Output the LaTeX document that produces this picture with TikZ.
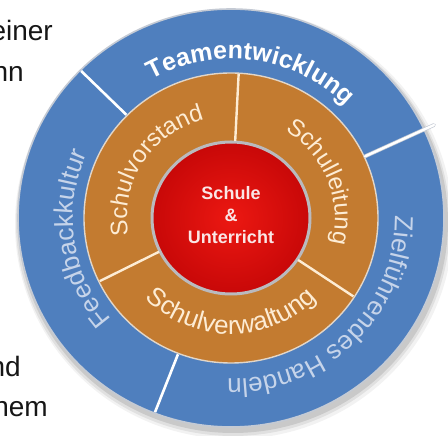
\documentclass[tikz,border=0pt]{standalone}
\usepackage{fontspec}
\setmainfont{Liberation Sans}
\usetikzlibrary{decorations.text}

\definecolor{ringblue}{RGB}{79,127,190}
\definecolor{ringrim}{RGB}{196,202,212}
\definecolor{ringorange}{RGB}{195,123,48}
\definecolor{orangerim}{RGB}{226,214,200}
\definecolor{corelight}{RGB}{236,24,18}
\definecolor{coredark}{RGB}{200,8,8}
\definecolor{silverrim}{RGB}{186,186,190}
\definecolor{bluetext}{RGB}{198,212,234}
\definecolor{creamtext}{RGB}{253,236,212}
\definecolor{coretext}{RGB}{250,230,230}
\definecolor{pagetext}{RGB}{22,22,22}

\newcommand\outerfont{\fontsize{26}{31}\selectfont}
\newcommand\teamfont{\fontsize{25}{30}\selectfont\bfseries}
\newcommand\innerfont{\fontsize{24}{29}\selectfont}
\newcommand\lowerfont{\fontsize{26}{31}\selectfont}

\begin{document}
\begin{tikzpicture}[x=1pt,y=1pt,
  pagefrag/.style={font=\fontsize{28}{33}\selectfont, text=pagetext, inner sep=0pt},
  outerdivider/.style={draw=white, line width=2.6pt},
  innerdivider/.style={draw=creamtext, line width=2.4pt},
  outerlabel/.style={decorate, decoration={text along path, text align=center,
      text color=bluetext, text={#1}}},
  teamlabel/.style={decorate, decoration={text along path, text align=center,
      text color=white, text={#1}}},
  innerlabel/.style={decorate, decoration={text along path, text align=center,
      text color=creamtext, text={#1}}},
  corelabel/.style={align=center, text=coretext, inner sep=0pt,
      font=\fontsize{18}{22}\selectfont\bfseries}]

\useasboundingbox (0,0) rectangle (448,436);
\clip (0,0) rectangle (448,436);
\fill[white] (0,0) rectangle (448,436);

% fragments of the surrounding page text
\node[pagefrag, anchor=base east] (fragA) at (53,395) {einer};
\node[pagefrag, anchor=base east] (fragB) at (24,354) {nn};
\node[pagefrag, anchor=base east] (fragC) at (21,59) {nd};
\node[pagefrag, anchor=base east] (fragD) at (48,19) {hem};

\begin{scope}[shift={(231,218)}]
  % soft shadow under the disc
  \fill[black, opacity=0.05] (3,-6) ellipse[x radius=219, y radius=215];
  \fill[black, opacity=0.07] (2,-5) ellipse[x radius=217, y radius=213];
  \fill[black, opacity=0.10] (2,-4) ellipse[x radius=215, y radius=211];

  % outer blue ring
  \fill[ringblue] (0,0) ellipse[x radius=213, y radius=209];
  \draw[ringrim, line width=1.6pt] (0,0) ellipse[x radius=213, y radius=209];

  % orange ring
  \fill[ringorange] (0,0) ellipse[x radius=147, y radius=145];
  \draw[orangerim, line width=1.4pt] (0,0) ellipse[x radius=147, y radius=145];

  % red core
  \shade[inner color=corelight, outer color=coredark] (0,0) ellipse[x radius=79, y radius=76];
  \draw[silverrim, line width=3pt] (0,0) ellipse[x radius=79, y radius=76];

  % dividers of the outer ring
  \draw[outerdivider] (135:148 and 146) -- (135:212 and 208);
  \draw[outerdivider] (249:148 and 146) -- (249:212 and 208);
  \draw[ringrim, line width=3.8pt, line cap=round] (25:148 and 146) -- (25:224 and 220);
  \draw[draw=white, line width=2.4pt, line cap=round] (25:148 and 146) -- (25:224 and 220);

  % dividers of the orange ring
  \draw[innerdivider] (87:80 and 77) -- (87:146 and 144);
  \draw[innerdivider] (206:80 and 77) -- (206:146 and 144);
  \draw[innerdivider] (-33:80 and 77) -- (-33:146 and 144);

  % labels of the outer ring
  \path[teamlabel={|\teamfont|Teamentwicklung}]
    (157:162 and 159) arc[start angle=157, end angle=7, x radius=162, y radius=159];
  \path[outerlabel={|\outerfont|Feedbackkultur}]
    (263:158 and 155) arc[start angle=263, end angle=113, x radius=158, y radius=155];
  \path[outerlabel={|\outerfont|Zielführendes Handeln}]
    (45:164 and 161) arc[start angle=45, end angle=-135, x radius=164, y radius=161];

  % labels of the orange ring
  \path[innerlabel={|\innerfont|Schulleitung}]
    (97:104 and 102) arc[start angle=97, end angle=-53, x radius=104, y radius=102];
  \path[innerlabel={|\innerfont|Schulvorstand}]
    (222.5:104 and 102) arc[start angle=222.5, end angle=72.5, x radius=104, y radius=102];
  \path[innerlabel={|\lowerfont|Schulverwaltung}]
    (195:119 and 116) arc[start angle=195, end angle=345, x radius=119, y radius=116];

  % centre
  \node[corelabel] (core) at (0,3) {Schule\\\&\\Unterricht};
\end{scope}
\end{tikzpicture}
\end{document}
